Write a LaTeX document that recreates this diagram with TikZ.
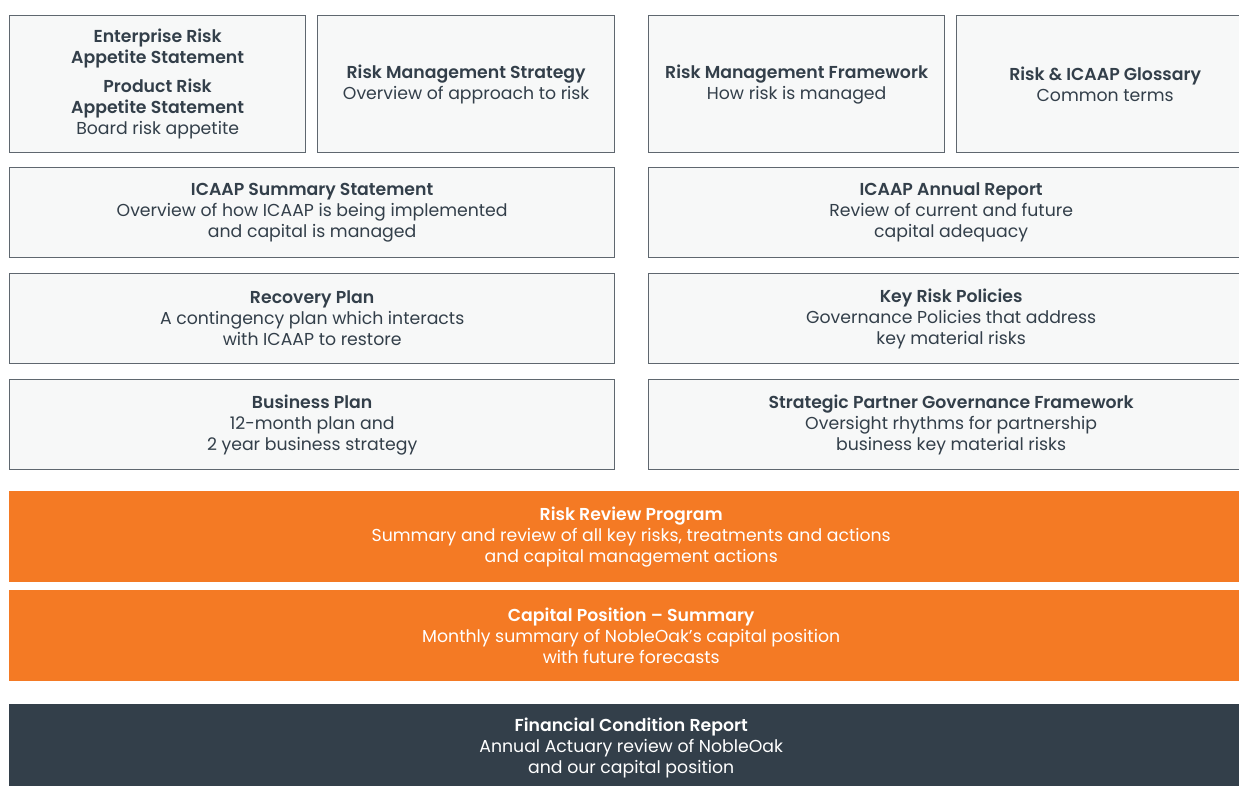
\documentclass[tikz,border=0pt]{standalone}
\usepackage{fontspec}
\setmainfont{Poppins}[BoldFont={Poppins SemiBold}]
\definecolor{boxfill}{HTML}{F7F8F8}
\definecolor{boxline}{HTML}{5F676F}
\definecolor{txt}{HTML}{333F4A}
\definecolor{orng}{HTML}{F47A24}
\definecolor{darkbg}{HTML}{333F4A}
\begin{document}
\begin{tikzpicture}[x=1pt,y=-1pt,
  base/.style={anchor=north west, inner sep=0pt, align=center, font=\fontsize{17.3}{21}\selectfont},
  box/.style={base, draw=boxline, line width=1.3pt, fill=boxfill, text=txt},
  obox/.style={base, fill=orng, text=white},
  dbox/.style={base, fill=darkbg, text=white}]
\useasboundingbox (0,0) rectangle (1239,785);
\clip (0,0) rectangle (1239,785);
% top row
\node[box, minimum width=296pt, minimum height=137pt] (era) at (9,15)
  {\textbf{Enterprise Risk}\\\textbf{Appetite Statement}\\[8pt]\textbf{Product Risk}\\\textbf{Appetite Statement}\\Board risk appetite};
\node[box, minimum width=297pt, minimum height=137pt] (rms) at (317,15)
  {\textbf{Risk Management Strategy}\\Overview of approach to risk};
\node[box, minimum width=296pt, minimum height=137pt] (rmf) at (648,15)
  {\textbf{Risk Management Framework}\\How risk is managed};
\node[box, minimum width=297pt, minimum height=137pt] (glo) at (956,15)
  {\textbf{Risk \& ICAAP Glossary}\\Common terms};
% row 2
\node[box, minimum width=605pt, minimum height=90pt] (iss) at (9,167)
  {\textbf{ICAAP Summary Statement}\\Overview of how ICAAP is being implemented\\and capital is managed};
\node[box, minimum width=605pt, minimum height=90pt] (iar) at (648,167)
  {\textbf{ICAAP Annual Report}\\Review of current and future\\capital adequacy};
% row 3
\node[box, minimum width=605pt, minimum height=90pt] (rp) at (9,273)
  {\textbf{Recovery Plan}\\A contingency plan which interacts\\with ICAAP to restore};
\node[box, minimum width=605pt, minimum height=90pt] (krp) at (648,273)
  {\textbf{Key Risk Policies}\\Governance Policies that address\\key material risks};
% row 4
\node[box, minimum width=605pt, minimum height=90pt] (bp) at (9,379)
  {\textbf{Business Plan}\\12-month plan and\\2 year business strategy};
\node[box, minimum width=605pt, minimum height=90pt] (spg) at (648,379)
  {\textbf{Strategic Partner Governance Framework}\\Oversight rhythms for partnership\\business key material risks};
% orange
\node[obox, minimum width=1244pt, minimum height=91pt] (rrp) at (9,491)
  {\textbf{Risk Review Program}\\Summary and review of all key risks, treatments and actions\\and capital management actions};
\node[obox, minimum width=1244pt, minimum height=91pt] (cps) at (9,590)
  {\textbf{Capital Position – Summary}\\Monthly summary of NobleOak’s capital position\\with future forecasts};
% dark
\node[dbox, minimum width=1244pt, minimum height=88pt] (fcr) at (9,704)
  {\textbf{Financial Condition Report}\\Annual Actuary review of NobleOak\\and our capital position};
\end{tikzpicture}
\end{document}
